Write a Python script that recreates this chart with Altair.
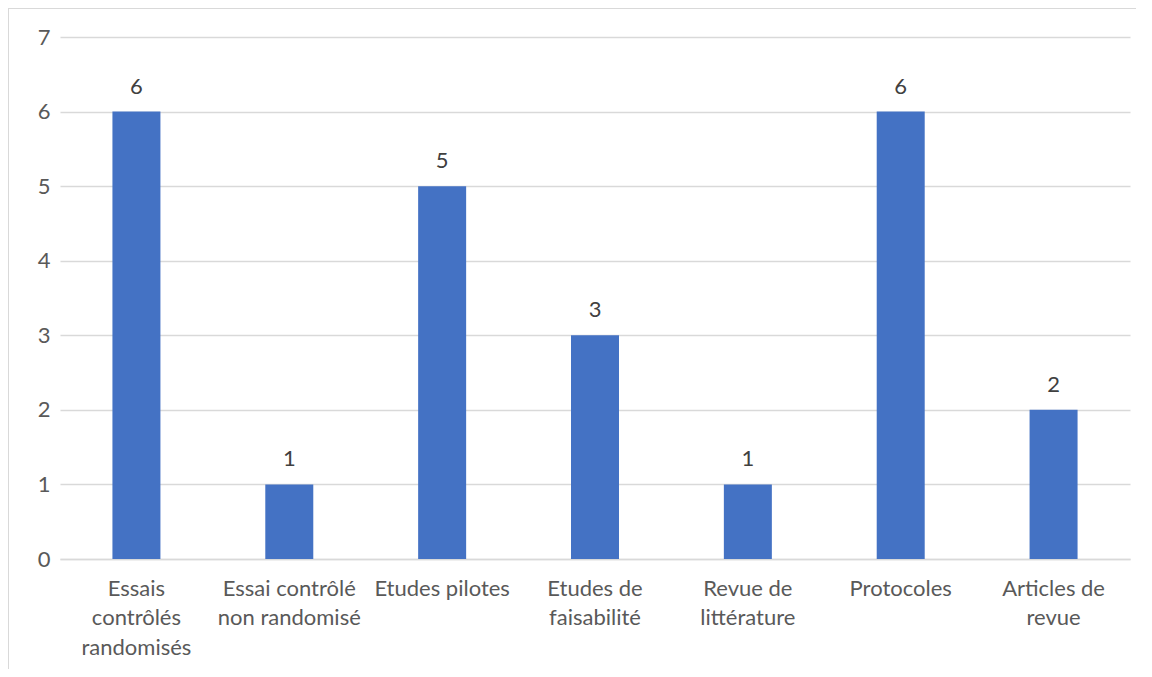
import altair as alt
import pandas as pd

categories = [
    "Essais|contrôlés|randomisés",
    "Essai contrôlé|non randomisé",
    "Etudes pilotes",
    "Etudes de|faisabilité",
    "Revue de|littérature",
    "Protocoles",
    "Articles de|revue",
]
values = [6, 1, 5, 3, 1, 6, 2]

df = pd.DataFrame({"cat": categories, "val": values})

FONT = "Lato"
GRAY = "#595959"
FS = 22

x = alt.X(
    "cat:N",
    sort=categories,
    title=None,
    scale=alt.Scale(paddingInner=0.686, paddingOuter=0.343),
    axis=alt.Axis(
        labelExpr="split(datum.value, '|')",
        labelAngle=0,
        labelFont=FONT,
        labelFontSize=FS,
        labelColor=GRAY,
        labelLineHeight=29.5,
        labelPadding=19,
        ticks=False,
        domain=True,
        domainColor="#d9d9d9",
        domainWidth=1.3,
        grid=False,
        labelLimit=300,
    ),
)
y = alt.Y(
    "val:Q",
    title=None,
    scale=alt.Scale(domain=[0, 7], nice=False),
    axis=alt.Axis(
        values=[0, 1, 2, 3, 4, 5, 6, 7],
        labelFont=FONT,
        labelFontSize=FS,
        labelColor=GRAY,
        labelPadding=10,
        ticks=False,
        domain=False,
        gridColor="#d9d9d9",
        gridWidth=1.3,
    ),
)

bars = alt.Chart(df).mark_bar(color="#4472C4").encode(x=x, y=y)
text = alt.Chart(df).mark_text(
    baseline="bottom", dy=-13, font=FONT, fontSize=FS, color="#404040"
).encode(x=x, y=y, text="val:Q")

border_top = alt.Chart(df).mark_rule(color="#d9d9d9", strokeWidth=1.5).encode(
    x=alt.value(-52), x2=alt.value(1076), y=alt.value(-29)
)
border_left = alt.Chart(df).mark_rule(color="#d9d9d9", strokeWidth=1.5).encode(
    x=alt.value(-52), y=alt.value(-29), y2=alt.value(640)
)

chart = (
    alt.layer(bars, text, border_top, border_left)
    .properties(
        width=1070,
        height=522,
        background="white",
        autosize=alt.AutoSizeParams(type="none"),
        padding={"left": 52, "top": 29, "right": 6, "bottom": 110},
    )
    .configure_view(strokeWidth=0, strokeOpacity=0)
)

chart.save("out.html", embed_options={"renderer": "svg", "actions": False})
